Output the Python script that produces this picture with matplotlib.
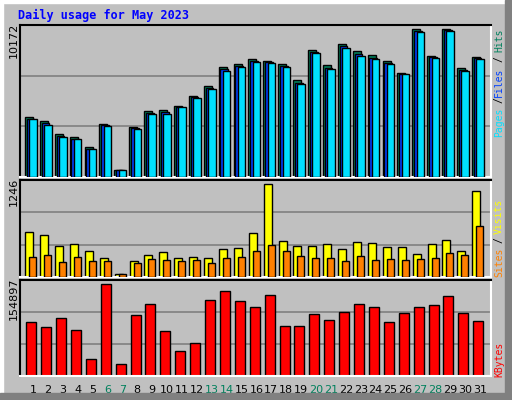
import matplotlib
matplotlib.use("Agg")
import matplotlib.pyplot as plt
from matplotlib.patches import Rectangle
import numpy as np

days = list(range(1, 32))
weekends = [6, 7, 13, 14, 20, 21, 27, 28]
hits = [4112, 3836, 2941, 2734, 2045, 3629, 461, 3423, 4525, 4594, 4869, 5558, 6246, 7555, 7762, 8106,
        7968, 7762, 6660, 8726, 7693, 9139, 8657, 8381, 7968, 7142, 10172, 8313, 10172, 7486, 8244]
files = [4000, 3700, 2830, 2640, 1960, 3560, 461, 3340, 4390, 4450, 4830, 5480, 6140, 7420, 7650, 7990,
         7900, 7650, 6500, 8600, 7530, 8990, 8480, 8220, 7860, 7100, 10060, 8230, 10090, 7380, 8170]
pages = [3974, 3561, 2734, 2596, 1908, 3492, 461, 3285, 4318, 4318, 4800, 5420, 6040, 7280, 7555, 7899,
         7830, 7555, 6384, 8519, 7417, 8864, 8313, 8106, 7762, 7073, 9966, 8175, 10034, 7280, 8106]
visits = [612, 571, 414, 450, 355, 261, 36, 220, 301, 342, 261, 274, 261, 382, 396, 598,
          1246, 490, 423, 423, 450, 382, 477, 463, 409, 409, 315, 450, 504, 355, 1152]
sites = [274, 301, 207, 274, 220, 220, 45, 193, 247, 234, 220, 234, 193, 261, 274, 355,
         436, 355, 288, 261, 261, 220, 288, 234, 247, 234, 247, 261, 328, 301, 693]
kbytes = [92125, 83642, 98912, 78553, 29351, 154897, 20868, 102305, 120968, 76856, 42924, 56497,
          127754, 143023, 126058, 115878, 136237, 85339, 85339, 104001, 95519, 107395, 120968,
          115878, 92125, 105700, 115878, 119271, 134540, 105700, 93822]

W, H = 512, 400
fig = plt.figure(figsize=(W/100, H/100), dpi=100)
fig.patch.set_facecolor('#C0C0C0')
fig.patches.append(Rectangle((0, 0), 3/W, 1, transform=fig.transFigure, color='white', zorder=0))
fig.patches.append(Rectangle((0, 1-3/H), 1, 3/H, transform=fig.transFigure, color='white', zorder=0))
fig.patches.append(Rectangle((1-7/W, 0), 7/W, 1, transform=fig.transFigure, color='#808080', zorder=0))
fig.patches.append(Rectangle((0, 0), 1, 7/H, transform=fig.transFigure, color='#808080', zorder=0))

x = np.array(days)
left_px, width_px = 20, 470.7
xlim = (0.128, 31.72)

def mkax(top, bottom):
    ax = fig.add_axes([left_px/W, 1-bottom/H, width_px/W, (bottom-top)/H])
    ax.set_facecolor('#C0C0C0')
    ax.set_xlim(*xlim)
    for s in ['top', 'left']:
        ax.spines[s].set_color('black'); ax.spines[s].set_linewidth(1.5)
    for s in ['right', 'bottom']:
        ax.spines[s].set_color('white'); ax.spines[s].set_linewidth(1.5)
    ax.set_xticks([]); ax.set_yticks([])
    return ax

def grid(ax, top):
    ax.set_ylim(0, top)
    for f in (1/3, 2/3):
        ax.axhline(top*f, color='#808080', lw=1.2, zorder=0)

ek = dict(edgecolor='black', linewidth=1, align='edge')
ax1 = mkax(25, 177)
grid(ax1, max(hits)*1.029)
ax1.bar(x-0.54, hits, 0.54, color='#00805C', zorder=2, **ek)
ax1.bar(x-0.42, files, 0.52, color='#0040FF', zorder=3, **ek)
ax1.bar(x-0.25, pages, 0.5, color='#00E0FF', zorder=4, **ek)

ax2 = mkax(180, 277)
grid(ax2, max(visits)*1.048)
ax2.bar(x-0.52, visits, 0.54, color='#FFFF00', zorder=2, **ek)
ax2.bar(x-0.25, sites, 0.47, color='#FF8000', zorder=3, **ek)

ax3 = mkax(280, 376)
grid(ax3, max(kbytes)*1.048)
ax3.bar(x-0.45, kbytes, 0.67, color='#FF0000', zorder=2, **ek)

for d in days:
    ax3.text(d, -0.09, str(d), transform=ax3.get_xaxis_transform(), ha='center', va='top',
             fontsize=8, color='#00805C' if d in weekends else 'black')

fs = dict(fontsize=8, rotation=90, family='DejaVu Sans')
fig.text(14/W, 1-23/H, str(max(hits)), ha='center', va='top', **fs)
fig.text(14/W, 1-178/H, str(max(visits)), ha='center', va='top', **fs)
fig.text(14/W, 1-278/H, str(max(kbytes)), ha='center', va='top', **fs)

mono = dict(fontsize=7, rotation=90, family='DejaVu Sans Mono', ha='center', va='center')
rx = 499/W
fig.text(rx, 1-122.5/H, 'Pages', color='#00E0FF', **mono)
fig.text(rx, 1-100/H, '/', color='black', **mono)
fig.text(rx, 1-82.5/H, 'Files', color='#0040FF', **mono)
fig.text(rx, 1-59/H, '/', color='black', **mono)
fig.text(rx, 1-40.5/H, 'Hits', color='#00805C', **mono)
fig.text(rx, 1-262/H, 'Sites', color='#FF8000', **mono)
fig.text(rx, 1-240/H, '/', color='black', **mono)
fig.text(rx, 1-216/H, 'Visits', color='#FFFF00', **mono)
fig.text(rx, 1-359/H, 'KBytes', color='#FF0000', **mono)

fig.text(18/W, 1-15/H, 'Daily usage for May 2023', color='#0000FF', fontsize=8.5,
         fontweight='bold', family='DejaVu Sans Mono', ha='left', va='center')

fig.savefig('out.png', dpi=100, facecolor=fig.get_facecolor())
